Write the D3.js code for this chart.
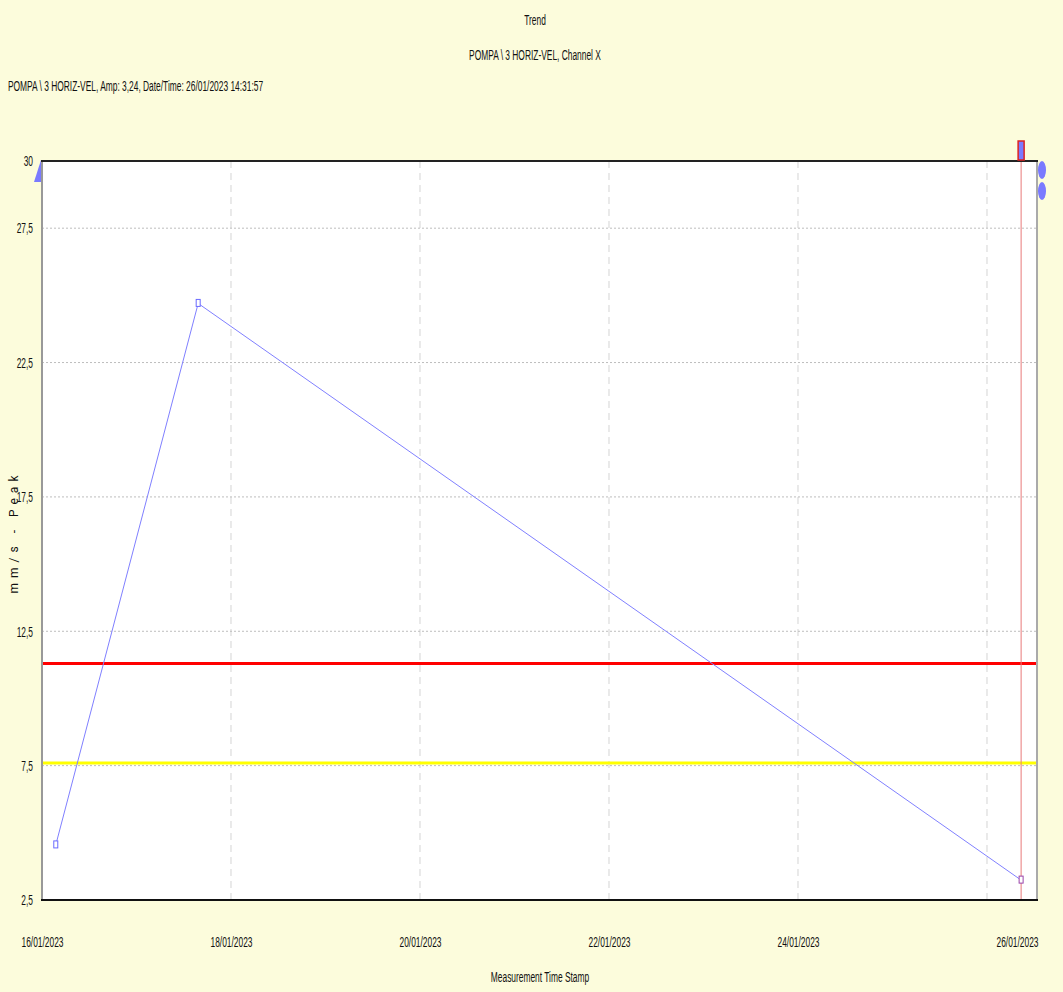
<!DOCTYPE html>
<html>
<head>
<meta charset="utf-8">
<script src="https://cdn.jsdelivr.net/npm/d3@7"></script>
<style>
  body { margin: 0; background: #fcfcdc; }
  svg text { font-family: "Liberation Sans", Arial, sans-serif; fill: #111; }
</style>
</head>
<body>
<svg id="drawing_region"></svg>
<script>
var width = 1063;
var height = 992;
var margin = {top: 161, right: 26, bottom: 92, left: 42};

// data
const times = ["2023-01-16T03:30", "2023-01-17T15:40", "2023-01-26T08:40"];
const amps = [4.55, 24.7, 3.24];
const alarmLevel = 11.3;
const alertLevel = 7.6;
const xDomain = ["2023-01-16T00:00", "2023-01-26T12:42"];
const yDomain = [2.5, 30];
const xTicks = ["2023-01-16", "2023-01-18", "2023-01-20", "2023-01-22", "2023-01-24", "2023-01-26"];
const yTicks = [2.5, 7.5, 12.5, 17.5, 22.5, 27.5, 30];
const titleLines = ["Trend", "POMPA \\ 3 HORIZ-VEL, Channel X"];
const infoLine = "POMPA \\ 3 HORIZ-VEL, Amp: 3,24, Date/Time: 26/01/2023 14:31:57";

const parse = d3.timeParse("%Y-%m-%dT%H:%M");
const parseDay = d3.timeParse("%Y-%m-%d");
const data = times.map((t, i) => ({t: parse(t), v: amps[i]}));

// the original uses a very condensed font, squeeze text horizontally
const squeeze = 0.56;
function narrow(sel) {
  sel.each(function() {
    const t = d3.select(this);
    const x = +t.attr('x') || 0;
    const y = +t.attr('y') || 0;
    t.attr('transform', `translate(${x},${y}) scale(${squeeze},1)`)
     .attr('x', 0).attr('y', 0);
  });
}

var svg = d3.select('#drawing_region')
      .attr('width', width)
      .attr('height', height);

svg.append('rect').attr('width', width).attr('height', height).attr('fill', '#fcfcdc');

const innerWidth = width - margin.left - margin.right;
const innerHeight = height - margin.top - margin.bottom;

var chart = svg.append('g')
      .attr('transform', `translate(${margin.left}, ${margin.top})`);

const xscale = d3.scaleTime()
      .domain(xDomain.map(parse))
      .range([0, innerWidth]);

const yscale = d3.scaleLinear()
      .domain(yDomain)
      .range([innerHeight, 0]);

chart.append('rect')
      .attr('width', innerWidth).attr('height', innerHeight)
      .attr('fill', 'white');

// grid
chart.append('g')
      .selectAll('line')
      .data(xTicks.map(parseDay).slice(1))
      .enter().append('line')
      .attr('x1', d => xscale(d)).attr('x2', d => xscale(d))
      .attr('y1', 0).attr('y2', innerHeight)
      .attr('stroke', '#d4d4d4')
      .attr('stroke-dasharray', '7,5');

chart.append('g')
      .selectAll('line')
      .data(yTicks.slice(1, -1))
      .enter().append('line')
      .attr('x1', 0).attr('x2', innerWidth)
      .attr('y1', d => yscale(d)).attr('y2', d => yscale(d))
      .attr('stroke', '#bdbdbd')
      .attr('stroke-dasharray', '2,2');

// limit lines
chart.append('line')
      .attr('x1', 0).attr('x2', innerWidth)
      .attr('y1', yscale(alertLevel)).attr('y2', yscale(alertLevel))
      .attr('stroke', '#ffff00').attr('stroke-width', 3);

chart.append('line')
      .attr('x1', 0).attr('x2', innerWidth)
      .attr('y1', yscale(alarmLevel)).attr('y2', yscale(alarmLevel))
      .attr('stroke', '#ff0000').attr('stroke-width', 3);

// series
const line = d3.line()
      .x(d => xscale(d.t))
      .y(d => yscale(d.v));

chart.append('path')
      .attr('d', line(data))
      .attr('stroke', '#8080ff')
      .attr('stroke-width', 1)
      .attr('fill', 'none');

// cursor
const last = data[data.length - 1];
chart.append('line')
      .attr('x1', xscale(last.t)).attr('x2', xscale(last.t))
      .attr('y1', -16).attr('y2', innerHeight)
      .attr('stroke', '#e87a7a').attr('stroke-width', 1);

chart.selectAll('.pt')
      .data(data)
      .enter()
      .append('rect')
      .attr('class', 'pt')
      .attr('x', d => xscale(d.t) - 2)
      .attr('y', d => yscale(d.v) - 4)
      .attr('width', 4).attr('height', 7)
      .attr('fill', 'white')
      .attr('stroke', (d, i) => i === data.length - 1 ? '#9944aa' : '#6a6aff')
      .attr('stroke-width', 1);

// frame
chart.append('line').attr('x1', 0).attr('x2', 0).attr('y1', 0).attr('y2', innerHeight)
      .attr('stroke', '#999').attr('stroke-width', 2);
chart.append('line').attr('x1', innerWidth).attr('x2', innerWidth).attr('y1', 0).attr('y2', innerHeight)
      .attr('stroke', '#aaa').attr('stroke-width', 2);
chart.append('line').attr('x1', -1).attr('x2', innerWidth + 1).attr('y1', 0).attr('y2', 0)
      .attr('stroke', '#222').attr('stroke-width', 2);
chart.append('line').attr('x1', -1).attr('x2', innerWidth + 1).attr('y1', innerHeight).attr('y2', innerHeight)
      .attr('stroke', '#111').attr('stroke-width', 2);

// cursor top handle
chart.append('rect')
      .attr('x', xscale(last.t) - 3).attr('y', -20)
      .attr('width', 6).attr('height', 19)
      .attr('fill', '#7a7aff').attr('stroke', '#dd2222').attr('stroke-width', 1.5);

// y scale marker
chart.append('path')
      .attr('d', `M-1,${yscale(30) - 1} L-8,${yscale(30) + 21} L-1,${yscale(30) + 21} Z`)
      .attr('fill', '#7a7aff');

chart.selectAll('.knob')
      .data([0, 1])
      .enter().append('ellipse')
      .attr('cx', innerWidth + 5)
      .attr('cy', d => 9 + d * 21)
      .attr('rx', 4).attr('ry', 9)
      .attr('fill', '#7a7aff');

// axes
const xAxis = d3.axisBottom(xscale)
      .tickValues(xTicks.map(parseDay))
      .tickFormat(d3.timeFormat("%d/%m/%Y"))
      .tickSize(0)
      .tickPadding(36);

const gx = chart.append('g')
      .attr('transform', `translate(0, ${innerHeight})`)
      .call(xAxis);
gx.select('.domain').remove();
gx.selectAll('text').style('font-size', '15px').attr('fill', '#111');
gx.selectAll('.tick').filter((d, i) => i === xTicks.length - 1)
      .select('text').attr('text-anchor', 'end').attr('x', innerWidth - xscale(parseDay(xTicks[xTicks.length - 1])) + 1);
narrow(gx.selectAll('text'));

const yAxis = d3.axisLeft(yscale)
      .tickValues(yTicks)
      .tickFormat(d => d3.format("")(d).replace('.', ','))
      .tickSize(0)
      .tickPadding(9);

const gy = chart.append('g').call(yAxis);
gy.select('.domain').remove();
gy.selectAll('text').style('font-size', '15px').attr('fill', '#111');
narrow(gy.selectAll('text'));

// titles
svg.append('text')
      .attr('x', 535).attr('y', 25)
      .attr('text-anchor', 'middle')
      .style('font-size', '15px')
      .text(titleLines[0]);

svg.append('text')
      .attr('x', 535).attr('y', 60)
      .attr('text-anchor', 'middle')
      .style('font-size', '15px')
      .text(titleLines[1]);

svg.append('text')
      .attr('x', 8).attr('y', 91)
      .style('font-size', '15px')
      .text(infoLine);

svg.append('text')
      .attr('x', 540).attr('y', 982)
      .attr('text-anchor', 'middle')
      .style('font-size', '15px')
      .text('Measurement Time Stamp');

narrow(svg.selectAll(':scope > text'));

svg.append('text')
      .attr('transform', 'translate(18, 532) rotate(-90)')
      .attr('text-anchor', 'middle')
      .style('font-size', '12px')
      .style('letter-spacing', '5px')
      .style('font-family', 'Roboto, sans-serif')
      .text('mm/s - Peak');
</script>
</body>
</html>
